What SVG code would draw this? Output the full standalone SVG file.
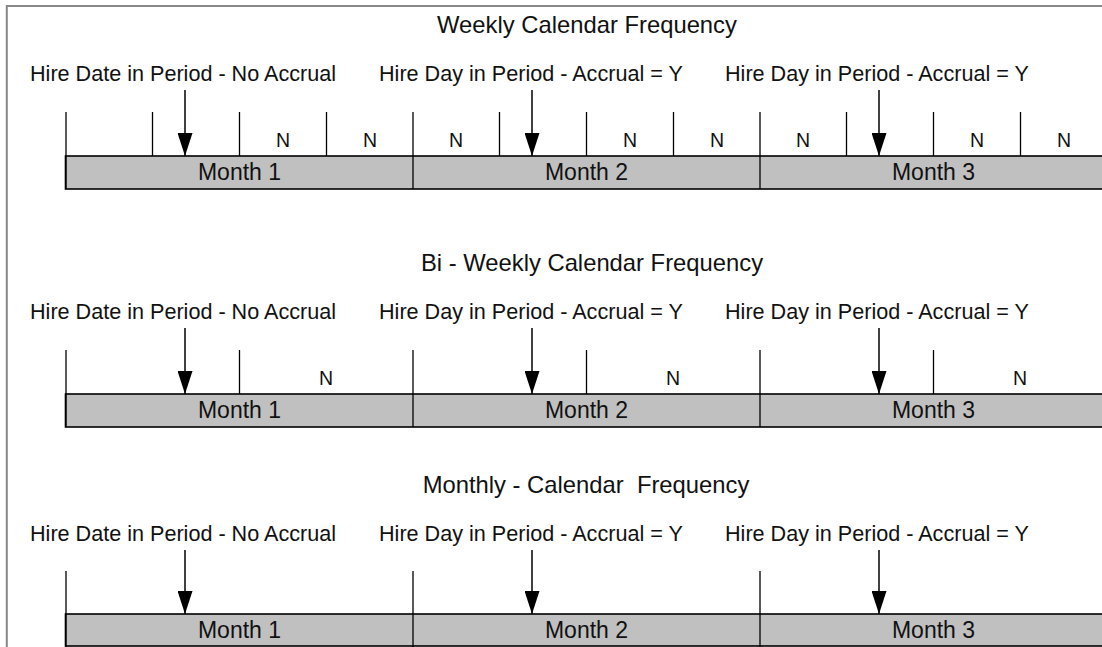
<svg xmlns="http://www.w3.org/2000/svg" width="1102" height="647" viewBox="0 0 1102 647">
  <style>
    text { font-family: "Liberation Sans", Arial, sans-serif; fill: #111; }
    .title { font-size: 23.8px; text-anchor: middle; }
    .label { font-size: 21.6px; }
    .month { font-size: 23px; text-anchor: middle; }
    .n { font-size: 19.5px; text-anchor: middle; }
    .bar { fill: #c0c0c0; stroke: #000; stroke-width: 1.6; }
    .tick { stroke: #000; stroke-width: 1.3; }
    .arrow { stroke: #000; stroke-width: 1.5; marker-end: url(#head); }
  </style>
  <defs>
    <marker id="head" viewBox="0 0 23 15" refX="23" refY="7.5" markerWidth="23" markerHeight="15" markerUnits="userSpaceOnUse" orient="auto">
      <path d="M0,0 L23,7.5 L0,15 z" fill="#000"/>
    </marker>
  </defs>

  <rect width="1102" height="647" fill="#fff"/>
  <!-- page frame -->
  <path d="M6.8,647 V6 H1102" fill="none" stroke="#888" stroke-width="2"/>

  <!-- ===== Weekly ===== -->
  <g id="weekly">
    <text class="title" x="587" y="33">Weekly Calendar Frequency</text>
    <g id="weekly-labels">
      <text class="label" x="30" y="81">Hire Date in Period - No Accrual</text>
      <text class="label" x="379" y="81">Hire Day in Period - Accrual = Y</text>
      <text class="label" x="725" y="81">Hire Day in Period - Accrual = Y</text>
    </g>
    <g id="weekly-bar">
      <rect class="bar" x="65.5" y="156" width="1060" height="33"/>
      <text class="month" x="239.5" y="180">Month 1</text>
      <text class="month" x="586.5" y="180">Month 2</text>
      <text class="month" x="933.5" y="180">Month 3</text>
    </g>
    <g id="weekly-ticks">
      <line class="tick" x1="66" y1="112" x2="66" y2="189"/>
      <line class="tick" x1="152.5" y1="112" x2="152.5" y2="156"/>
      <line class="tick" x1="239.5" y1="112" x2="239.5" y2="156"/>
      <line class="tick" x1="326.5" y1="112" x2="326.5" y2="156"/>
      <line class="tick" x1="413" y1="112" x2="413" y2="189"/>
      <line class="tick" x1="499.5" y1="112" x2="499.5" y2="156"/>
      <line class="tick" x1="586.5" y1="112" x2="586.5" y2="156"/>
      <line class="tick" x1="673.5" y1="112" x2="673.5" y2="156"/>
      <line class="tick" x1="760" y1="112" x2="760" y2="189"/>
      <line class="tick" x1="846.5" y1="112" x2="846.5" y2="156"/>
      <line class="tick" x1="933.5" y1="112" x2="933.5" y2="156"/>
      <line class="tick" x1="1020.5" y1="112" x2="1020.5" y2="156"/>
    </g>
    <g id="weekly-n">
      <text class="n" x="283" y="147">N</text>
      <text class="n" x="370" y="147">N</text>
      <text class="n" x="456" y="147">N</text>
      <text class="n" x="630" y="147">N</text>
      <text class="n" x="717" y="147">N</text>
      <text class="n" x="803" y="147">N</text>
      <text class="n" x="977" y="147">N</text>
      <text class="n" x="1064" y="147">N</text>
    </g>
  </g>

  <!-- ===== Bi-weekly ===== -->
  <g id="biweekly">
    <text class="title" x="592" y="271">Bi - Weekly Calendar Frequency</text>
    <g id="biweekly-labels">
      <text class="label" x="30" y="319">Hire Date in Period - No Accrual</text>
      <text class="label" x="379" y="319">Hire Day in Period - Accrual = Y</text>
      <text class="label" x="725" y="319">Hire Day in Period - Accrual = Y</text>
    </g>
    <g id="biweekly-bar">
      <rect class="bar" x="65.5" y="394" width="1060" height="33"/>
      <text class="month" x="239.5" y="418">Month 1</text>
      <text class="month" x="586.5" y="418">Month 2</text>
      <text class="month" x="933.5" y="418">Month 3</text>
    </g>
    <g id="biweekly-ticks">
      <line class="tick" x1="66" y1="350" x2="66" y2="427"/>
      <line class="tick" x1="239.5" y1="350" x2="239.5" y2="394"/>
      <line class="tick" x1="413" y1="350" x2="413" y2="427"/>
      <line class="tick" x1="586.5" y1="350" x2="586.5" y2="394"/>
      <line class="tick" x1="760" y1="350" x2="760" y2="427"/>
      <line class="tick" x1="933.5" y1="350" x2="933.5" y2="394"/>
    </g>
    <g id="biweekly-n">
      <text class="n" x="326" y="385">N</text>
      <text class="n" x="673" y="385">N</text>
      <text class="n" x="1020" y="385">N</text>
    </g>
  </g>

  <!-- ===== Monthly ===== -->
  <g id="monthly">
    <text class="title" x="586" y="493" xml:space="preserve">Monthly - Calendar  Frequency</text>
    <g id="monthly-labels">
      <text class="label" x="30" y="541">Hire Date in Period - No Accrual</text>
      <text class="label" x="379" y="541">Hire Day in Period - Accrual = Y</text>
      <text class="label" x="725" y="541">Hire Day in Period - Accrual = Y</text>
    </g>
    <g id="monthly-bar">
      <rect class="bar" x="65.5" y="614" width="1060" height="32"/>
      <text class="month" x="239.5" y="638">Month 1</text>
      <text class="month" x="586.5" y="638">Month 2</text>
      <text class="month" x="933.5" y="638">Month 3</text>
    </g>
    <g id="monthly-ticks">
      <line class="tick" x1="66" y1="571" x2="66" y2="647"/>
      <line class="tick" x1="413" y1="571" x2="413" y2="647"/>
      <line class="tick" x1="760" y1="571" x2="760" y2="647"/>
    </g>
  </g>

  <!-- hire-date pointers -->
  <g id="connectors">
    <line class="arrow" x1="185" y1="90" x2="185" y2="156"/>
    <line class="arrow" x1="532" y1="90" x2="532" y2="156"/>
    <line class="arrow" x1="879" y1="90" x2="879" y2="156"/>
    <line class="arrow" x1="185" y1="328" x2="185" y2="394"/>
    <line class="arrow" x1="532" y1="328" x2="532" y2="394"/>
    <line class="arrow" x1="879" y1="328" x2="879" y2="394"/>
    <line class="arrow" x1="185" y1="550" x2="185" y2="614"/>
    <line class="arrow" x1="532" y1="550" x2="532" y2="614"/>
    <line class="arrow" x1="879" y1="550" x2="879" y2="614"/>
  </g>
</svg>
